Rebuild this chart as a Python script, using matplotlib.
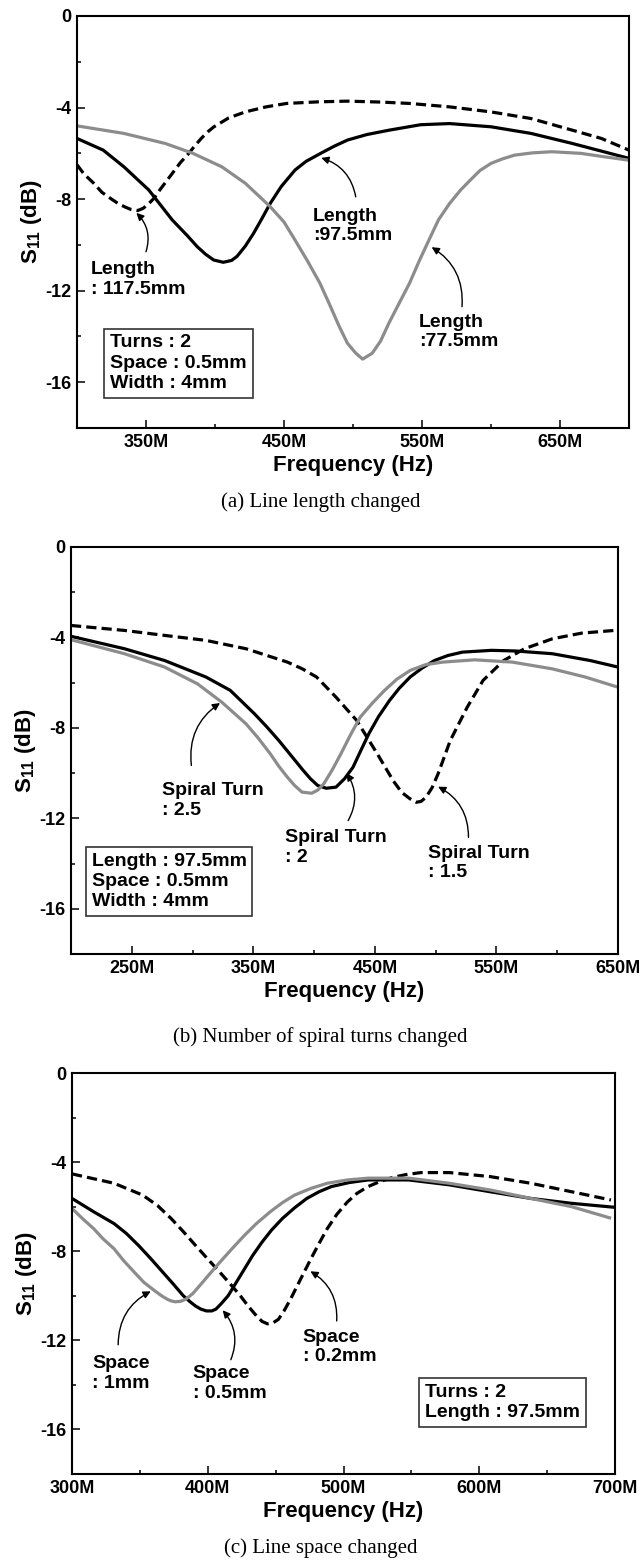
import matplotlib
matplotlib.use('Agg')
import matplotlib.pyplot as plt
from matplotlib.ticker import MultipleLocator, FuncFormatter

plt.rcParams['font.family'] = ['Liberation Sans', 'DejaVu Sans']
plt.rcParams['font.weight'] = 'bold'
plt.rcParams['axes.unicode_minus'] = False
plt.rcParams['mathtext.fontset'] = 'custom'
plt.rcParams['mathtext.bf'] = 'Liberation Sans:bold'
plt.rcParams['mathtext.rm'] = 'Liberation Sans:bold'
plt.rcParams['mathtext.default'] = 'bf'

# ---- (a) line length changed ----
fa_1175 = [300, 305, 312, 318, 325, 330, 335, 339, 344, 348, 352, 356, 360, 365, 370,
           375, 381, 385, 390, 395, 399, 410, 422, 437, 452, 475, 496, 520, 541, 570,
           600, 629, 659, 680, 700]
sa_1175 = [-6.5, -6.9, -7.3, -7.7, -8.0, -8.2, -8.35, -8.45, -8.5, -8.4, -8.2, -7.95,
           -7.6, -7.2, -6.8, -6.4, -6.0, -5.7, -5.35, -5.05, -4.85, -4.45, -4.19, -3.97,
           -3.82, -3.75, -3.72, -3.76, -3.82, -3.97, -4.19, -4.48, -4.99, -5.35, -5.86]
fa_975 = [300, 319, 334, 352, 369, 380, 387, 393, 399, 406, 412, 416, 422, 428, 434,
          440, 448, 458, 466, 476, 486, 496, 510, 526, 549, 570, 600, 629, 659, 700]
sa_975 = [-5.35, -5.86, -6.59, -7.6, -8.91, -9.6, -10.07, -10.4, -10.66, -10.76, -10.68,
          -10.5, -10.05, -9.49, -8.85, -8.19, -7.45, -6.73, -6.35, -6.02, -5.7, -5.42,
          -5.18, -4.99, -4.75, -4.70, -4.84, -5.13, -5.57, -6.22]
fa_775 = [300, 334, 364, 384, 405, 422, 440, 450, 458, 467, 476, 483, 490, 496, 502,
          507, 514, 520, 526, 533, 541, 548, 555, 562, 570, 578, 585, 592, 600, 608,
          617, 630, 644, 665, 682, 700]
sa_775 = [-4.8, -5.13, -5.57, -6.0, -6.59, -7.31, -8.33, -9.0, -9.79, -10.7, -11.67,
          -12.6, -13.56, -14.3, -14.73, -14.99, -14.73, -14.2, -13.42, -12.6, -11.67,
          -10.7, -9.79, -8.9, -8.19, -7.6, -7.17, -6.75, -6.44, -6.25, -6.08, -5.98,
          -5.93, -6.0, -6.15, -6.3]

# ---- (b) spiral turns changed ----
fb_15 = [200, 244, 277, 311, 344, 378, 390, 402, 418, 435, 452, 465, 472, 479, 484,
         488, 492, 497, 502, 512, 526, 539, 556, 573, 596, 620, 647]
sb_15 = [-3.47, -3.69, -3.91, -4.13, -4.5, -5.09, -5.38, -5.75, -6.64, -7.67, -9.15,
         -10.33, -10.85, -11.14, -11.29, -11.25, -11.07, -10.65, -10.03, -8.56, -7.08,
         -5.9, -5.02, -4.5, -4.06, -3.81, -3.69]
fb_2 = [200, 244, 277, 311, 331, 351, 361, 371, 381, 391, 397, 403, 410, 418, 425, 432,
        438, 445, 453, 462, 470, 479, 489, 499, 510, 522, 546, 566, 596, 627, 650]
sb_2 = [-3.95, -4.5, -5.02, -5.75, -6.34, -7.38, -7.95, -8.56, -9.22, -9.88, -10.25,
        -10.55, -10.67, -10.62, -10.25, -9.74, -9.05, -8.26, -7.5, -6.79, -6.25, -5.75,
        -5.35, -5.02, -4.8, -4.65, -4.57, -4.6, -4.72, -5.02, -5.31]
fb_25 = [200, 244, 277, 304, 324, 344, 354, 364, 371, 378, 384, 390, 398, 403, 408, 415,
         422, 430, 438, 448, 458, 468, 479, 492, 506, 532, 563, 596, 623, 650]
sb_25 = [-4.1, -4.72, -5.31, -6.05, -6.86, -7.82, -8.45, -9.15, -9.7, -10.18, -10.55,
         -10.84, -10.89, -10.75, -10.47, -9.85, -9.15, -8.3, -7.52, -6.9, -6.34, -5.85,
         -5.46, -5.2, -5.09, -4.99, -5.09, -5.39, -5.75, -6.2]

# ---- (c) line space changed ----
fc_02 = [300, 331, 352, 363, 373, 382, 391, 400, 409, 417, 424, 430, 436, 440, 444, 448,
         452, 456, 461, 468, 476, 482, 488, 495, 503, 510, 518, 527, 536, 546, 557, 578,
         608, 638, 668, 697]
sc_02 = [-4.53, -4.95, -5.48, -5.95, -6.53, -7.12, -7.74, -8.35, -8.95, -9.5, -10.0,
         -10.48, -10.91, -11.15, -11.26, -11.22, -11.06, -10.7, -10.15, -9.3, -8.34,
         -7.65, -6.99, -6.35, -5.78, -5.4, -5.1, -4.87, -4.69, -4.56, -4.47, -4.47,
         -4.65, -4.95, -5.33, -5.70]
fc_05 = [300, 316, 331, 340, 349, 358, 367, 375, 382, 387, 391, 395, 399, 403, 406, 410,
         415, 421, 427, 433, 440, 447, 455, 464, 473, 482, 491, 504, 518, 548, 578, 608,
         638, 668, 700]
sc_05 = [-5.63, -6.23, -6.76, -7.2, -7.74, -8.33, -8.95, -9.5, -10.0, -10.27, -10.46,
         -10.6, -10.68, -10.68, -10.6, -10.35, -10.0, -9.4, -8.8, -8.2, -7.59, -7.05,
         -6.53, -6.05, -5.63, -5.33, -5.1, -4.92, -4.8, -4.8, -5.02, -5.33, -5.63, -5.85,
         -6.03]
fc_1 = [300, 308, 316, 323, 331, 338, 346, 353, 361, 366, 370, 373, 376, 380, 384, 389,
        394, 401, 409, 418, 427, 436, 446, 455, 464, 476, 488, 503, 518, 548, 578, 608,
        638, 668, 696]
sc_1 = [-6.08, -6.55, -6.99, -7.45, -7.89, -8.42, -8.95, -9.4, -9.78, -10.0, -10.15,
        -10.23, -10.27, -10.25, -10.15, -9.9, -9.55, -9.05, -8.49, -7.88, -7.29, -6.75,
        -6.23, -5.82, -5.48, -5.18, -4.95, -4.8, -4.72, -4.72, -4.95, -5.25, -5.63, -6.0,
        -6.5]

W, H = 641, 1568
fig = plt.figure(figsize=(W / 100, H / 100), dpi=100)

GRAY = '#8c8c8c'
LW = 2.3
DASH = (0, (3.2, 1.6))


def make_axes(l, t, r, b):
    return fig.add_axes([l / W, 1 - b / H, (r - l) / W, (b - t) / H])


def style(ax, xlim, minor_off):
    ax.set_xlim(*xlim)
    ax.set_ylim(-18, 0)
    ax.xaxis.set_major_locator(MultipleLocator(100, offset=minor_off))
    ax.xaxis.set_minor_locator(MultipleLocator(50))
    ax.yaxis.set_major_locator(MultipleLocator(4))
    ax.yaxis.set_minor_locator(MultipleLocator(2))
    ax.xaxis.set_major_formatter(FuncFormatter(lambda v, p: f'{v:.0f}M'))
    ax.yaxis.set_major_formatter(FuncFormatter(lambda v, p: f'{v:.0f}'))
    ax.tick_params(which='both', direction='in', top=False, right=False,
                   labelsize=13, width=1.1)
    ax.tick_params(which='major', length=6, pad=4)
    ax.tick_params(which='minor', length=3)
    for s in ax.spines.values():
        s.set_linewidth(1.5)
    ax.set_xlabel('Frequency (Hz)', fontsize=16, fontweight='bold', labelpad=3)
    ax.set_ylabel('S$_{11}$ (dB)', fontsize=16, fontweight='bold', labelpad=1)


def label(ax, x, y, s):
    ax.text(x, y, s, fontsize=14, fontweight='bold', ha='left', va='center',
            linespacing=1.2)


def arrow(ax, start, end, rad):
    ax.annotate('', xy=end, xytext=start,
                arrowprops=dict(arrowstyle='-|>', color='black', lw=1.0,
                                mutation_scale=11, shrinkA=0, shrinkB=0,
                                connectionstyle=f'arc3,rad={rad}'))


def box(ax, x, y, s):
    ax.text(x, y, s, fontsize=14, fontweight='bold', ha='left', va='center',
            linespacing=1.25,
            bbox=dict(boxstyle='square,pad=0.3', fc='white', ec='#333333', lw=1.2))


def caption(y, s):
    fig.text(0.5, 1 - y / H, s, ha='center', va='center',
             family='Liberation Serif', fontweight='normal', fontsize=15)


# panel (a)
ax = make_axes(77, 16, 629, 428)
ax.plot(fa_1175, sa_1175, color='black', lw=LW, ls=DASH)
ax.plot(fa_975, sa_975, color='black', lw=LW)
ax.plot(fa_775, sa_775, color=GRAY, lw=LW)
style(ax, (300, 700), 50)
label(ax, 310, -11.5, 'Length\n: 117.5mm')
label(ax, 471, -9.17, 'Length\n:97.5mm')
label(ax, 548, -13.8, 'Length\n:77.5mm')
arrow(ax, (350, -10.3), (343, -8.6), 0.3)
arrow(ax, (502, -7.9), (477, -6.2), 0.3)
arrow(ax, (579, -12.7), (557, -10.1), 0.3)
box(ax, 324, -15.17, 'Turns : 2\nSpace : 0.5mm\nWidth : 4mm')
caption(502, '(a) Line length changed')

# panel (b)
ax = make_axes(71, 547, 618, 954)
ax.plot(fb_15, sb_15, color='black', lw=LW, ls=DASH)
ax.plot(fb_2, sb_2, color='black', lw=LW)
ax.plot(fb_25, sb_25, color=GRAY, lw=LW)
style(ax, (200, 650), 50)
label(ax, 275, -11.2, 'Spiral Turn\n: 2.5')
label(ax, 376, -13.28, 'Spiral Turn\n: 2')
label(ax, 494, -13.97, 'Spiral Turn\n: 1.5')
arrow(ax, (299, -9.66), (322.6, -6.9), -0.3)
arrow(ax, (428, -12.1), (426.7, -10.0), 0.3)
arrow(ax, (527, -12.84), (502, -10.6), 0.3)
box(ax, 217, -14.8, 'Length : 97.5mm\nSpace : 0.5mm\nWidth : 4mm')
caption(1037, '(b) Number of spiral turns changed')

# panel (c)
ax = make_axes(72, 1073, 615, 1474)
ax.plot(fc_02, sc_02, color='black', lw=LW, ls=DASH)
ax.plot(fc_05, sc_05, color='black', lw=LW)
ax.plot(fc_1, sc_1, color=GRAY, lw=LW)
style(ax, (300, 700), 0)
label(ax, 315, -13.5, 'Space\n: 1mm')
label(ax, 389, -13.95, 'Space\n: 0.5mm')
label(ax, 470, -12.3, 'Space\n: 0.2mm')
arrow(ax, (334, -12.2), (358, -9.8), -0.3)
arrow(ax, (417, -12.87), (411, -10.65), 0.3)
arrow(ax, (495, -11.13), (475.6, -8.9), 0.3)
box(ax, 560, -14.8, 'Turns : 2\nLength : 97.5mm')
caption(1548, '(c) Line space changed')

fig.savefig('out.png', dpi=100)
